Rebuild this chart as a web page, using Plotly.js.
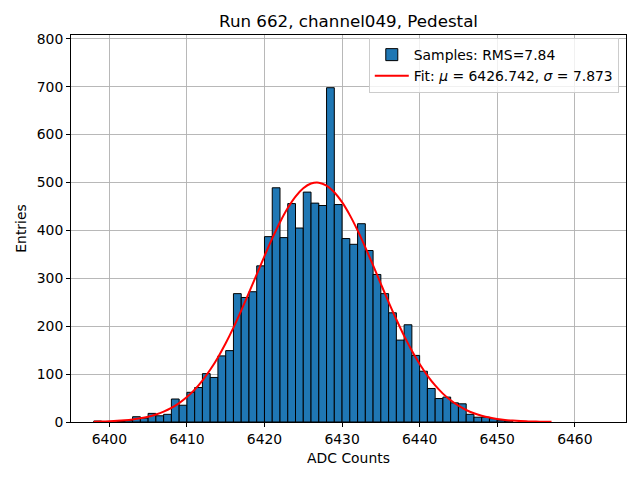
<!DOCTYPE html>
<html>
<head>
<meta charset="utf-8">
<script src="https://cdn.plot.ly/plotly-3.0.1.min.js"></script>
<style>html,body{margin:0;padding:0;background:#fff;}#chart{width:640px;height:480px;}</style>
</head>
<body>
<div id="chart"></div>
<script>
// Histogram bins (left edges, width 1 ADC count) and entries
const binLeft = [6398,6399,6400,6401,6402,6403,6404,6405,6406,6407,6408,6409,6410,6411,6412,6413,6414,6415,6416,6417,6418,6419,6420,6421,6422,6423,6424,6425,6426,6427,6428,6429,6430,6431,6432,6433,6434,6435,6436,6437,6438,6439,6440,6441,6442,6443,6444,6445,6446,6447,6448,6449,6450,6451];
const entries = [2,0,0,1,3,11,8,18,13,16,48,35,62,72,101,93,138,149,268,260,272,326,387,489,385,456,405,480,457,452,698,454,383,371,414,358,308,268,228,171,203,139,106,70,49,52,40,38,16,10,10,7,4,2];

// Fit curve points
const fitX = [6398,6399,6400,6401,6402,6403,6404,6405,6406,6407,6408,6409,6410,6411,6412,6413,6414,6415,6416,6417,6418,6419,6420,6421,6422,6423,6424,6425,6426,6427,6428,6429,6430,6431,6432,6433,6434,6435,6436,6437,6438,6439,6440,6441,6442,6443,6444,6445,6446,6447,6448,6449,6450,6451,6452,6453,6454,6455,6456,6457];
const fitY = [0.6,1.0,1.6,2.4,3.6,5.3,7.7,11.0,15.6,21.6,29.4,39.5,52.1,67.7,86.6,109.0,134.9,164.4,197.1,232.5,269.9,308.3,346.5,383.3,417.1,446.6,470.6,487.9,497.8,499.7,493.7,479.8,459.0,431.9,400.0,364.6,326.9,288.4,250.4,214.0,179.8,148.8,121.1,97.0,76.4,59.3,45.3,34.0,25.1,18.3,13.1,9.2,6.4,4.3,2.9,1.9,1.3,0.8,0.5,0.3];

const titleText = "Run 662, channel049, Pedestal";
const xLabel = "ADC Counts";
const yLabel = "Entries";
const sampleLabel = "Samples: RMS=7.84";
const fitLabel = "Fit: <i>μ</i> = 6426.742, <i>σ</i> = 7.873";
const xTicks = [6400,6410,6420,6430,6440,6450,6460];
const yTicks = [0,100,200,300,400,500,600,700,800];

const binCenter = binLeft.map(v => v + 0.5);

const traces = [
  {
    type: 'bar', x: binCenter, y: entries, width: 1,
    name: sampleLabel,
    marker: {color: '#1f77b4', line: {color: '#000', width: 1}},
    hoverinfo: 'x+y'
  },
  {
    type: 'scatter', mode: 'lines', x: fitX, y: fitY,
    name: fitLabel, line: {color: '#ff0000', width: 2, shape: 'spline'}
  }
];

const font = {family: 'DejaVu Sans, sans-serif', size: 13.9, color: '#000'};
const layout = {
  width: 640, height: 480,
  margin: {l: 71, r: 14, t: 35, b: 58},
  paper_bgcolor: '#fff', plot_bgcolor: '#fff',
  font: font,
  bargap: 0,
  showlegend: true,
  title: {text: titleText, font: {family: 'DejaVu Sans, sans-serif', size: 16.7, color: '#000'},
          x: 0.5446, xanchor: 'center', y: 0.956, yanchor: 'middle'},
  xaxis: {
    range: [6395.06, 6466.6], tickmode: 'array', tickvals: xTicks,
    ticks: 'outside', ticklen: 4, tickwidth: 1, tickcolor: '#000',
    showline: true, linecolor: '#000', linewidth: 1, mirror: true,
    showgrid: true, gridcolor: '#b0b0b0', gridwidth: 0.9, zeroline: false,
    title: {text: xLabel, font: font, standoff: 7},
    automargin: false
  },
  yaxis: {
    range: [0, 808], tickmode: 'array', tickvals: yTicks,
    ticks: 'outside', ticklen: 4, tickwidth: 1, tickcolor: '#000',
    showline: true, linecolor: '#000', linewidth: 1, mirror: true,
    showgrid: true, gridcolor: '#b0b0b0', gridwidth: 0.9, zeroline: false,
    title: {text: yLabel, font: font, standoff: 6},
    automargin: false
  },
  legend: {
    x: 0.987, y: 0.992, xanchor: 'right', yanchor: 'top',
    bgcolor: 'rgba(255,255,255,0.8)', bordercolor: '#cccccc', borderwidth: 1,
    font: font, tracegroupgap: 2, itemwidth: 34
  }
};

Plotly.newPlot('chart', traces, layout, {displayModeBar: false, staticPlot: true});
</script>
</body>
</html>
